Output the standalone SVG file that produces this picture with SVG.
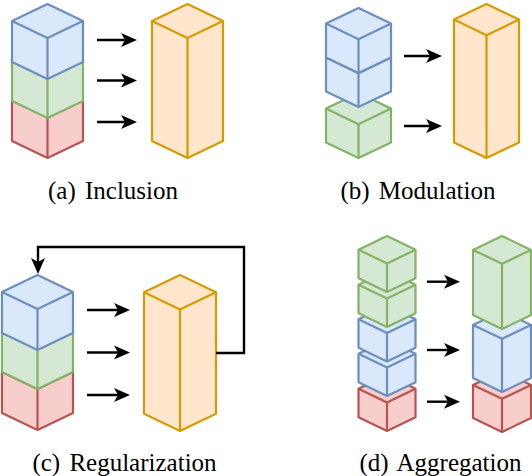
<svg xmlns="http://www.w3.org/2000/svg" width="532" height="476" viewBox="0 0 532 476">
<defs>
<marker id="ah" markerUnits="userSpaceOnUse" markerWidth="18" markerHeight="16" refX="12" refY="7.5" orient="auto">
<path d="M0,0.5 L16,7.5 L0,14.5 L4,7.5 Z" fill="#000"/>
</marker>
</defs>
<style>
.c path{stroke-width:2.2;stroke-linejoin:round}
.b path{fill:#dae8fc;stroke:#6c8ebf}
.g path{fill:#d5e8d4;stroke:#82b366}
.r path{fill:#f8cecc;stroke:#b85450}
.o path{fill:#ffe6cc;stroke:#d79b00}
.c path.i{fill:none}
.e path{fill:none;stroke:#000;stroke-width:2.4;marker-end:url(#ah)}
text{font-family:"Liberation Serif","Times New Roman",serif;font-size:25px;fill:#000;text-anchor:middle;word-spacing:3px}
</style>
<!-- Panel a -->
<g id="a-red" class="c r"><path d="M12,100 L47.5,83 L83,100 L83,141 L47.5,158 L12,141 Z"/><path class="i" d="M12,100 L47.5,117 L83,100 M47.5,117 V158"/></g>
<g id="a-green" class="c g"><path d="M12,60 L47.5,43 L83,60 L83,101 L47.5,118 L12,101 Z"/><path class="i" d="M12,60 L47.5,77 L83,60 M47.5,77 V118"/></g>
<g id="a-blue" class="c b"><path d="M12,21 L47.5,4 L83,21 L83,62 L47.5,79 L12,62 Z"/><path class="i" d="M12,21 L47.5,38 L83,21 M47.5,38 V79"/></g>
<g id="a-out" class="c o"><path d="M152,21 L187.5,4 L223,21 L223,141 L187.5,158 L152,141 Z"/><path class="i" d="M152,21 L187.5,38 L223,21 M187.5,38 V158"/></g>
<!-- Panel b -->
<g id="b-green" class="c g"><path d="M326,108.6 L358.5,93 L391,108.6 L391,142.4 L358.5,158 L326,142.4 Z"/><path class="i" d="M326,108.6 L358.5,124.2 L391,108.6 M358.5,124.2 V158"/></g>
<g id="b-blue2" class="c b"><path d="M326,57.6 L358.5,42 L391,57.6 L391,91.4 L358.5,107 L326,91.4 Z"/><path class="i" d="M326,57.6 L358.5,73.2 L391,57.6 M358.5,73.2 V107"/></g>
<g id="b-blue1" class="c b"><path d="M326,23.6 L358.5,8 L391,23.6 L391,57.4 L358.5,73 L326,57.4 Z"/><path class="i" d="M326,23.6 L358.5,39.2 L391,23.6 M358.5,39.2 V73"/></g>
<g id="b-out" class="c o"><path d="M454,19.6 L486.5,4 L519,19.6 L519,142.4 L486.5,158 L454,142.4 Z"/><path class="i" d="M454,19.6 L486.5,35.2 L519,19.6 M486.5,35.2 V158"/></g>
<!-- Panel c -->
<g id="c-red" class="c r"><path d="M2,372 L37.5,355 L73,372 L73,413 L37.5,430 L2,413 Z"/><path class="i" d="M2,372 L37.5,389 L73,372 M37.5,389 V430"/></g>
<g id="c-green" class="c g"><path d="M2,331 L37.5,314 L73,331 L73,372 L37.5,389 L2,372 Z"/><path class="i" d="M2,331 L37.5,348 L73,331 M37.5,348 V389"/></g>
<g id="c-blue" class="c b"><path d="M2,292 L37.5,275 L73,292 L73,333 L37.5,350 L2,333 Z"/><path class="i" d="M2,292 L37.5,309 L73,292 M37.5,309 V350"/></g>
<g id="c-out" class="c o"><path d="M144,292.3 L180,275 L216,292.3 L216,413.7 L180,431 L144,413.7 Z"/><path class="i" d="M144,292.3 L180,309.6 L216,292.3 M180,309.6 V431"/></g>
<!-- Panel d left -->
<g id="d-red" class="c r"><path d="M358.5,388.7 L387,375 L415.5,388.7 L415.5,417.3 L387,431 L358.5,417.3 Z"/><path class="i" d="M358.5,388.7 L387,402.4 L415.5,388.7 M387,402.4 V431"/></g>
<g id="d-blue2" class="c b"><path d="M358.5,353.7 L387,340 L415.5,353.7 L415.5,382.3 L387,396 L358.5,382.3 Z"/><path class="i" d="M358.5,353.7 L387,367.4 L415.5,353.7 M387,367.4 V396"/></g>
<g id="d-blue1" class="c b"><path d="M358.5,319.2 L387,305.5 L415.5,319.2 L415.5,347.8 L387,361.5 L358.5,347.8 Z"/><path class="i" d="M358.5,319.2 L387,332.9 L415.5,319.2 M387,332.9 V361.5"/></g>
<g id="d-green2" class="c g"><path d="M358.5,284.7 L387,271 L415.5,284.7 L415.5,313.3 L387,327 L358.5,313.3 Z"/><path class="i" d="M358.5,284.7 L387,298.4 L415.5,284.7 M387,298.4 V327"/></g>
<g id="d-green1" class="c g"><path d="M358.5,249.7 L387,236 L415.5,249.7 L415.5,278.3 L387,292 L358.5,278.3 Z"/><path class="i" d="M358.5,249.7 L387,263.4 L415.5,249.7 M387,263.4 V292"/></g>
<!-- Panel d right -->
<g id="d-out-red" class="c r"><path d="M473,384.9 L502,371 L531,384.9 L531,418.1 L502,432 L473,418.1 Z"/><path class="i" d="M473,384.9 L502,398.8 L531,384.9 M502,398.8 V432"/></g>
<g id="d-out-blue" class="c b"><path d="M473,324.9 L502,311 L531,324.9 L531,378.1 L502,392 L473,378.1 Z"/><path class="i" d="M473,324.9 L502,338.8 L531,324.9 M502,338.8 V392"/></g>
<g id="d-out-green" class="c g"><path d="M473,249.9 L502,236 L531,249.9 L531,315.1 L502,329 L473,315.1 Z"/><path class="i" d="M473,249.9 L502,263.8 L531,249.9 M502,263.8 V329"/></g>
<!-- Connectors -->
<g id="edges" class="e">
<path d="M97,40 H133"/><path d="M97,80.5 H133"/><path d="M97,122 H133"/>
<path d="M404,56 H438"/><path d="M404,126 H438"/>
<path d="M87,310 H126"/><path d="M87,352.5 H126"/><path d="M87,395 H126"/>
<path d="M216,353 H244 V247 H38 V270"/>
<path d="M427,281.7 H456"/><path d="M427,350 H456"/><path d="M427,401.7 H456"/>
</g>
<!-- Labels -->
<g id="labels">
<text x="113" y="199">(a) Inclusion</text>
<text x="418" y="199">(b) Modulation</text>
<text x="124.5" y="470.5">(c) Regularization</text>
<text x="440.5" y="470.5">(d) Aggregation</text>
</g>
</svg>
